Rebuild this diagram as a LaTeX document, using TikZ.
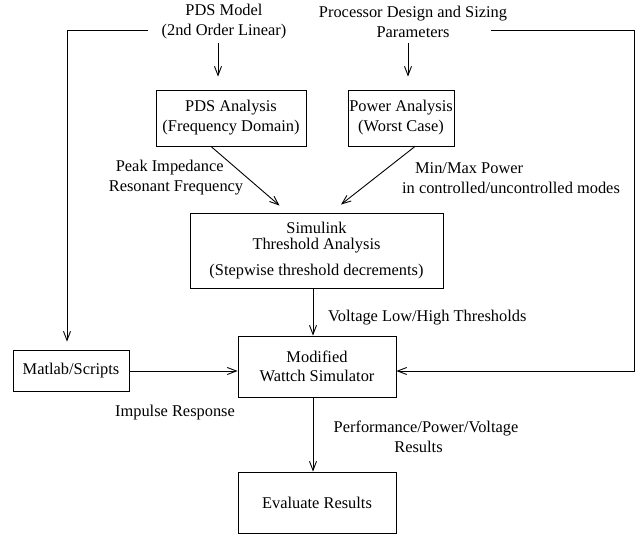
\documentclass[tikz,border=0pt]{standalone}
\usepackage{fontspec}
\setmainfont{Liberation Serif}
\usetikzlibrary{arrows.meta,calc}
\begin{document}
\begin{tikzpicture}[x=1pt,y=-1pt,
  every node/.style={font=\fontsize{16.4}{20}\selectfont, inner sep=0pt},
  box/.style={draw, line width=0.9pt, align=center},
  txt/.style={align=center},
  arr/.style={line width=0.9pt, -{Straight Barb[length=9pt,width=7pt,line width=0.9pt]}},
  ln/.style={line width=0.9pt}]
\useasboundingbox (0,0) rectangle (635,535);
% sources
\node[txt] (pdsm) at (224,22) {PDS Model\\(2nd Order Linear)};
\node[txt] (proc) at (413,22) {Processor Design and Sizing\\Parameters};
% boxes
\node[box, minimum width=150pt, minimum height=56pt] (pdsa) at (231,118) {PDS Analysis\\(Frequency Domain)};
\node[box, minimum width=106pt, minimum height=56pt] (powa) at (401,118) {Power Analysis\\(Worst Case)};
\node[box, minimum width=253pt, minimum height=75pt] (sim) at (316.5,250.5) {Simulink\\[-4pt]Threshold Analysis\\[6pt](Stepwise threshold decrements)};
\node[box, minimum width=116pt, minimum height=41pt] (mat) at (71,370.5) {Matlab/Scripts};
\node[box, minimum width=158pt, minimum height=61pt] (mod) at (317,366.5) {Modified\\[-1pt]Wattch Simulator};
\node[box, minimum width=158pt, minimum height=61pt] (eva) at (317,502.5) {Evaluate Results};
% labels
\node[align=left] (lpeak) at (176,178) {\hspace*{7pt}Peak Impedance\\Resonant Frequency};
\node[align=left] (lminmax) at (511,178) {\hspace*{13pt}Min/Max Power\\in controlled/uncontrolled modes};
\node[anchor=west] (lvolt) at (328,318) {Voltage Low/High Thresholds};
\node (limp) at (175,413) {Impulse Response};
\node[txt] (lperf) at (426,437) {Performance/Power/Voltage\\[0pt]\hspace*{-15pt}Results};
% coordinates for free ends
\coordinate (lstart) at (148,30);
\coordinate (rstart) at (491,30);
\coordinate (rc) at (634,371);
\coordinate (lc) at (129,371);
% connectors
\draw[arr, shorten >=13pt] ([xshift=-6pt,yshift=-21pt]pdsm.center) -- ([xshift=-13pt]pdsa.north);
\draw[arr, shorten >=13pt] ([xshift=-5pt,yshift=-21pt]proc.center) -- ([xshift=7pt]powa.north);
\draw[arr] ([xshift=-20pt]pdsa.south) -- ([xshift=-37pt,yshift=7pt]sim.north);
\draw[arr] ([xshift=14pt]powa.south) -- ([xshift=24.5pt,yshift=8pt]sim.north);
\draw[arr] ([xshift=-3.5pt]sim.south) -- ([xshift=-4pt]mod.north);
\draw[arr] ([xshift=-4pt]mod.south) -- ([xshift=-4pt]eva.north);
\draw[arr, shorten >=8pt] (lstart) -| (mat.north -| 67,0);
\draw[arr] (lc) -- (lc -| mod.west);
\draw[arr] (rstart) -| (rc) -- (rc -| mod.east);
\end{tikzpicture}
\end{document}
